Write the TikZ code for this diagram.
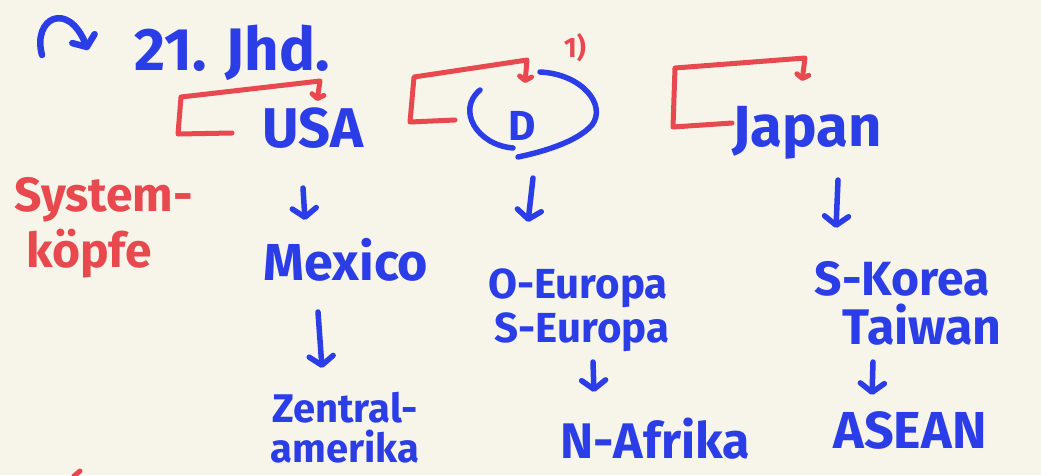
\documentclass[tikz,border=0pt]{standalone}
\usepackage{fontspec}
\setmainfont{Fira Sans}
\usetikzlibrary{arrows.meta,calc}
\definecolor{paper}{HTML}{F7F4EA}
\definecolor{inkblue}{HTML}{2B3DE6}
\definecolor{inkred}{HTML}{E8494E}
\newcommand{\inksize}[1]{\bfseries\fontsize{#1}{#1}\selectfont}
\begin{document}
\begin{tikzpicture}[x=1pt,y=-1pt,
  bluelabel/.style={text=inkblue, font=\inksize{46}, inner sep=0pt, anchor=base},
  redlabel/.style={text=inkred, inner sep=0pt},
  bluestroke/.style={draw=inkblue, line width=5.5pt, line cap=round, line join=round},
  redstroke/.style={draw=inkred, line width=5pt, line cap=round, line join=round},
  bluearrow/.style={bluestroke, -{Straight Barb[round,length=9pt,width=24pt]}},
  redbracket/.style={redstroke, -{Straight Barb[round,length=4pt,width=12pt]}}]
\fill[paper] (0,0) rectangle (1041,475);
\useasboundingbox (0,0) rectangle (1041,475);

% headings
\node[bluelabel, font=\inksize{60}] (jhd) at (232,70) {21. Jhd.};
\node[bluelabel, font=\inksize{56}] (usa) at (313,147) {USA};
\node[bluelabel, font=\inksize{42}] (D) at (522,140) {D};
\node[bluelabel, font=\inksize{58}] (japan) at (807,146) {Japan};
\node[redlabel, font=\inksize{28}, anchor=base] (note) at (575,57) {1)};

% side label
\node[redlabel, font=\bfseries\fontsize{48}{56}\selectfont, align=left, anchor=west] (kopf) at (14,228) {System-\\\hspace*{12pt}köpfe};

% second row
\node[bluelabel, font=\inksize{52}] (mexico) at (346,280) {Mexico};
\node[bluelabel, font=\inksize{42}] (oeur) at (578,298) {O-Europa};
\node[bluelabel, font=\inksize{42}] (seur) at (582,342) {S-Europa};
\node[bluelabel, font=\inksize{48}] (skor) at (902,295) {S-Korea};
\node[bluelabel, font=\inksize{50}] (taiwan) at (922,344) {Taiwan};

% third row
\node[bluelabel, anchor=center, align=center, font=\bfseries\fontsize{40}{40}\selectfont] (zentral) at (345,428) {Zentral-\\amerika};
\node[bluelabel, font=\inksize{50}] (nafrika) at (655,458) {N-Afrika};
\node[bluelabel, font=\inksize{52}] (asean) at (910,448) {ASEAN};

% hook arrow before the century
\coordinate (hook) at (42,55);
\draw[bluearrow, line width=6.5pt] (hook) .. controls (32,18) and (68,0) .. ($(jhd.base)+(-144,-20)$);

% ring round the D
\draw[bluestroke] ($(D.base)+(-42,-50)$) .. controls ($(D.base)+(-66,-30)$) and ($(D.base)+(-45,5)$) .. ($(D.base)+(-9,8)$);
\draw[bluestroke] ($(D.base)+(18,-68)$) .. controls ($(D.base)+(60,-66)$) and ($(D.base)+(85,-35)$) .. ($(D.base)+(70,-15)$)
  .. controls ($(D.base)+(55,2)$) and ($(D.base)+(20,12)$) .. ($(D.base)+(-4,17)$);

% red brackets over the three centres
\draw[redbracket] ($(usa.base)+(-81,-14)$) -- ($(usa.base)+(-135,-13)$) -- ($(usa.base)+(-132,-50)$)
  -- ($(usa.base)+(7,-66)$) -- ($(usa.base)+(4,-46)$);
\draw[redbracket] ($(D.base)+(-67,-20)$) -- ($(D.base)+(-112,-18)$) -- ($(D.base)+(-108,-63)$)
  -- ($(D.base)+(5,-80)$) -- ($(D.base)+(3,-57)$);
\draw[redbracket] ($(japan.base)+(-75,-23)$) -- ($(japan.base)+(-134,-19)$) -- ($(japan.base)+(-132,-78)$)
  -- ($(japan.base)+(-2,-88)$) -- ($(japan.base)+(-5,-65)$);

% flows
\draw[bluearrow] ($(usa.base)+(-10,41)$) -- ($(mexico.base)+(-41,-60)$);
\draw[bluearrow] ($(D.base)+(11,38)$) -- ($(oeur.base)+(-50,-76)$);
\draw[bluearrow] ($(japan.base)+(31,34)$) -- ($(skor.base)+(-66,-67)$);
\draw[bluearrow] ($(mexico.base)+(-28,32)$) -- ($(zentral.center)+(-23,-60)$);
\draw[bluearrow] ($(seur.base)+(11,20)$) -- ($(nafrika.base)+(-61,-66)$);
\draw[bluearrow] ($(taiwan.base)+(-49,18)$) -- ($(asean.base)+(-38,-53)$);

% stray red tick at the lower edge
\draw[redstroke] (74,476) -- (80,471);
\end{tikzpicture}
\end{document}
